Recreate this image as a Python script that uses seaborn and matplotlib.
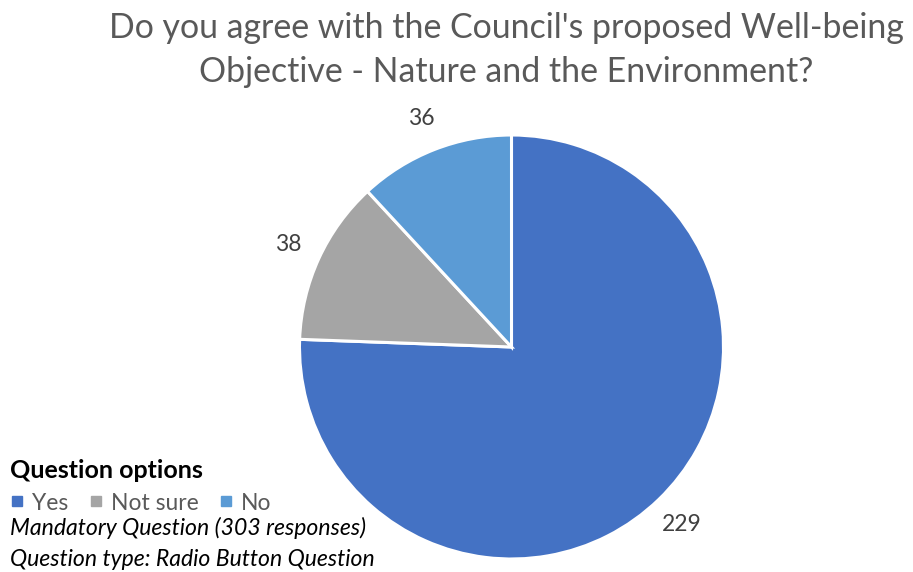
import matplotlib
matplotlib.use("Agg")
import matplotlib.pyplot as plt
from matplotlib.lines import Line2D
import seaborn as sns

sns.set_theme(style="white")
plt.rcParams["font.family"] = ["Lato", "DejaVu Sans"]

categories = ["Yes", "Not sure", "No"]
counts = [229, 38, 36]
colors = ["#4472C4", "#A5A5A5", "#5B9BD5"]
title = "Do you agree with the Council's proposed Well-being\nObjective - Nature and the Environment?"
legend_title = "Question options"
notes = ["Mandatory Question (303 responses)", "Question type: Radio Button Question"]

W, H = 913, 572
fig = plt.figure(figsize=(W / 100, H / 100), dpi=100)
fig.patch.set_facecolor("white")

cx, cy, r = 511.5, 347, 212
ax = fig.add_axes([(cx - r) / W, (H - cy - r) / H, 2 * r / W, 2 * r / H])
total = sum(counts)
wedges, _, autotexts = ax.pie(
    counts,
    colors=colors,
    startangle=90,
    counterclock=False,
    radius=1,
    autopct=lambda p: f"{round(p * total / 100)}",
    pctdistance=1.16,
    wedgeprops=dict(edgecolor="white", linewidth=2.2),
    textprops=dict(fontsize=16.5, color="#404040"),
)
ax.set_xlim(-1, 1)
ax.set_ylim(-1, 1)
ax.set_aspect("equal")
ax.axis("off")

fig.text(506 / W, 1 - 50 / H, title, ha="center", va="center", fontsize=24.4,
         color="#595959", linespacing=1.5)

# Legend block in the lower-left corner
fig.text(10 / W, 1 - 470 / H, legend_title, ha="left", va="center",
         fontsize=18, fontweight="bold", color="black")

handles = [Line2D([0], [0], marker="s", linestyle="none", markersize=6.5,
                  markerfacecolor=c, markeredgecolor=c) for c in colors]
leg = fig.legend(handles, categories, loc="center left",
                 bbox_to_anchor=(9 / W, 1 - 503 / H), ncol=3, frameon=False,
                 fontsize=16.5, handlelength=0.5, handletextpad=0.4,
                 columnspacing=0.95, borderpad=0.1, borderaxespad=0)
for t in leg.get_texts():
    t.set_color("#595959")

fig.text(10 / W, 1 - 528 / H, notes[0], ha="left", va="center",
         fontsize=16.6, style="italic", color="black")
fig.text(10 / W, 1 - 560 / H, notes[1], ha="left", va="center",
         fontsize=16.6, style="italic", color="black")

fig.savefig("out.png", dpi=100, facecolor="white")
